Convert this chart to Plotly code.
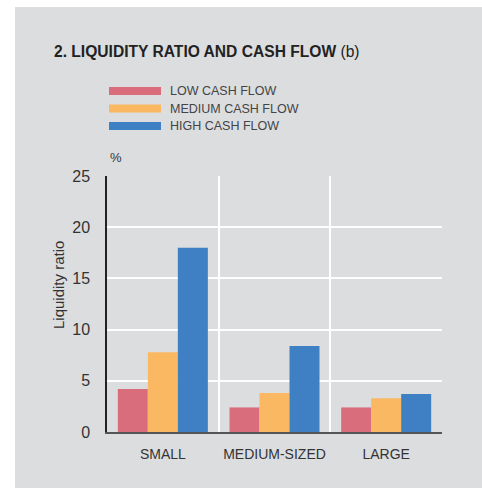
import plotly.graph_objects as go

categories = ["SMALL", "MEDIUM-SIZED", "LARGE"]
series_names = ["LOW CASH FLOW", "MEDIUM CASH FLOW", "HIGH CASH FLOW"]
low_cash_flow = [4.2, 2.4, 2.4]
medium_cash_flow = [7.8, 3.8, 3.3]
high_cash_flow = [18.0, 8.4, 3.7]
y_ticks = [0, 5, 10, 15, 20, 25]

colors = ["#d96d7b", "#fbb863", "#3f7fc3"]
BG = "#dcdddf"
FONT = "Liberation Sans"

W, H = 482, 488
# absolute positions of plot area (page coords)
AX_L, AX_R, AX_T, AX_B = 107, 442, 176, 432
L, T = AX_L, AX_T
R, B = W - AX_R, H - AX_B
pw, ph = AX_R - AX_L, AX_B - AX_T

def px_x(x):
    return (x - AX_L) / pw

def px_y(y):
    return (AX_B - y) / ph

fig = go.Figure()
xs = list(range(len(categories)))
for name, vals, c in zip(series_names, [low_cash_flow, medium_cash_flow, high_cash_flow], colors):
    fig.add_trace(go.Bar(x=xs, y=vals, name=name, marker=dict(color=c, line=dict(width=0)),
                         showlegend=False))

# white outer frame on the left and top edges
shapes = [
    dict(type="rect", xref="paper", yref="paper", x0=px_x(-10), x1=px_x(15), y0=px_y(500), y1=px_y(-10),
         fillcolor="white", line=dict(width=0), layer="below"),
    dict(type="rect", xref="paper", yref="paper", x0=px_x(-10), x1=px_x(500), y0=px_y(7), y1=px_y(-10),
         fillcolor="white", line=dict(width=0), layer="below"),
]
annotations = [
    dict(text="<b>2. LIQUIDITY RATIO AND CASH FLOW</b> (b)", xref="paper", yref="paper",
         x=px_x(52), y=px_y(51), xanchor="left", yanchor="middle", showarrow=False,
         font=dict(family=FONT, size=15.6, color="#222")),
    dict(text="%", xref="paper", yref="paper", x=px_x(108), y=px_y(157), xanchor="left",
         yanchor="middle", showarrow=False, font=dict(family=FONT, size=13, color="#333")),
    dict(text="Liquidity ratio", xref="paper", yref="paper", x=px_x(58), y=px_y(285),
         xanchor="center", yanchor="middle", textangle=-90, showarrow=False,
         font=dict(family=FONT, size=15, color="#333")),
]
leg_y = [91, 108.5, 126]
for name, c, yy in zip(series_names, colors, leg_y):
    shapes.append(dict(type="rect", xref="paper", yref="paper", x0=px_x(109), x1=px_x(161),
                       y0=px_y(yy + 4), y1=px_y(yy - 4), fillcolor=c, line=dict(width=0)))
    annotations.append(dict(text=name, xref="paper", yref="paper", x=px_x(168), y=px_y(yy),
                            xanchor="left", yanchor="middle", showarrow=False,
                            font=dict(family=FONT, size=12.5, color="#444")))

fig.update_layout(
    width=W, height=H, margin=dict(l=L, r=R, t=T, b=B),
    paper_bgcolor=BG, plot_bgcolor=BG,
    barmode="group", bargap=0.194, bargroupgap=0,
    shapes=shapes, annotations=annotations,
    font=dict(family=FONT, color="#333"),
)
fig.update_xaxes(
    range=[-0.5, 2.5], tickvals=xs, ticktext=categories, showgrid=False, zeroline=False,
    showline=True, linecolor="#555", linewidth=1.5,
    ticks="outside", ticklen=8, tickcolor="rgba(0,0,0,0)",
    tickfont=dict(family=FONT, size=14, color="#333"),
    minor=dict(tickvals=[0.5, 1.5, 2.5], showgrid=True, gridcolor="white", gridwidth=2, ticks=""),
)
fig.update_yaxes(
    range=[0, 25], tickvals=y_ticks, showgrid=True, gridcolor="white", gridwidth=2,
    zeroline=False, showline=True, linecolor="#222", linewidth=1.5,
    ticks="outside", ticklen=12, tickcolor="rgba(0,0,0,0)",
    tickfont=dict(family=FONT, size=16, color="#333"),
)

fig.write_html(
    "out.html",
    config={"displayModeBar": False},
    post_script=(
        "document.documentElement.style.overflow='hidden';"
        "document.documentElement.style.background='" + BG + "';"
        "document.body.style.margin='0';document.body.style.overflow='hidden';"
        "document.body.style.background='" + BG + "';"
    ),
)
